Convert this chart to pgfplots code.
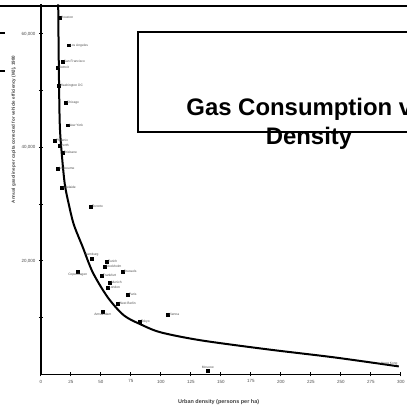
\documentclass[border=0pt]{standalone}
\usepackage{pgfplots}
\pgfplotsset{compat=1.18}
\usepackage{fontspec}
\setmainfont{Liberation Sans}
\begin{document}
\begin{tikzpicture}[x=1bp,y=1bp]
\begin{scope}
\clip (0,0) rectangle (407,405);
\begin{axis}[
  at={(34,54)}, anchor=south west,
  scale only axis, width=360bp, height=370bp,
  xmin=0, xmax=300, ymin=0, ymax=65200,
  axis x line=bottom, axis y line=left,
  axis line style={-, line width=1.6bp, black},
  xtick={0,25,...,300},
  ytick={20000,40000,60000}, minor ytick={10000,30000,50000},
  tick align=center, major tick length=4bp, minor tick length=4bp,
  every tick/.style={black, line width=1bp},
  scaled y ticks=false,
  /pgf/number format/assume math mode=true,
  /pgf/number format/1000 sep={,},
  ticklabel style={font=\fontsize{4.5}{5}\selectfont, text=black!70},
  xlabel={Urban density (persons per ha)},
  ylabel={Annual gasoline per capita corrected for vehicle efficiency (MJ), 1980},
  xlabel style={at={(rel axis cs:0.494,-0.076)}, anchor=center, font=\bfseries\fontsize{5.5}{6}\selectfont, text=black!75},
  ylabel style={at={(rel axis cs:-0.075,0.662)}, anchor=center, font=\bfseries\fontsize{4.5}{5}\selectfont, text=black!75},
  clip=false,
]
% fitted curve
\addplot[black, line width=2bp, smooth, tension=0.5] coordinates {
(14.5,65200) (15.0,54600) (15.8,44100) (17.5,38800) (20.0,33500) (23.3,30000)
(27.5,26400) (35.0,22400) (43.3,17970) (55.8,13570) (69.2,10400) (83.3,8800)
(100,7400) (133.3,6000) (189.2,4400) (244.2,3000) (298.3,1400)
};
% cities labelled to the right
\addplot[only marks, mark=square*, mark size=1.4bp, black,
  nodes near coords, point meta=explicit symbolic,
  nodes near coords style={anchor=west, font=\fontsize{3.3}{4}\selectfont, text=black!70, inner sep=1bp}]
  table[meta=label, col sep=comma, row sep=\\] {
x,y,label\\
15.8,62900,Houston\\
23.3,58000,Los Angeles\\
18.3,55150,San Francisco\\
14.2,54100,Detroit\\
15.0,50900,Washington DC\\
20.8,47900,Chicago\\
22.5,43900,New York\\
11.7,41200,Phoenix\\
15.8,40300,Perth\\
18.3,39100,Brisbane\\
14.2,36300,Melbourne\\
17.5,32950,Adelaide\\
41.7,29600,Toronto\\
55.0,19900,Zurich\\
53.3,19030,Stockholm\\
68.3,18150,Brussels\\
50.8,17440,Frankfurt\\
57.5,16210,Munich\\
55.8,15330,London\\
72.5,14100,Paris\\
64.2,12510,West Berlin\\
105.8,10570,Vienna\\
82.5,9340,Tokyo\\
};
% cities labelled below
\addplot[only marks, mark=square*, mark size=1.4bp, black,
  nodes near coords, point meta=explicit symbolic,
  nodes near coords style={anchor=north, font=\fontsize{3.3}{4}\selectfont, text=black!70, inner sep=1bp, yshift=-1bp}]
  table[meta=label, col sep=comma, row sep=\\] {
x,y,label\\
30.8,18150,Copenhagen\\
51.7,11100,Amsterdam\\
};
% cities labelled above
\addplot[only marks, mark=square*, mark size=1.4bp, black,
  nodes near coords, point meta=explicit symbolic,
  nodes near coords style={anchor=south, font=\fontsize{3.3}{4}\selectfont, text=black!70, inner sep=1bp, yshift=1bp}]
  table[meta=label, col sep=comma, row sep=\\] {
x,y,label\\
42.5,20440,Hamburg\\
139.2,600,Moscow\\
};
% Hong Kong at the end of the curve
\addplot[only marks, mark=none,
  nodes near coords, point meta=explicit symbolic,
  nodes near coords style={anchor=south east, font=\fontsize{3.3}{4}\selectfont, text=black!70, inner sep=1bp}]
  table[meta=label, col sep=comma, row sep=\\] {
x,y,label\\
298.3,1400,Hong Kong\\
};
\end{axis}
% slide decorations
\draw[line width=2.4bp] (0,399) -- (407,399);
\draw[line width=1.2bp] (0,372) -- (5,372);
\draw[line width=1.2bp] (0,334) -- (5,334);
\draw[line width=1.2bp, fill=white] (138,273) rectangle (430,373);
\node[anchor=base, inner sep=0pt, font=\bfseries\fontsize{24}{29}\selectfont] at (306,290) {Gas Consumption vs};
\node[anchor=base, inner sep=0pt, font=\bfseries\fontsize{24}{29}\selectfont] at (309,261) {Density};
\end{scope}
\pgfresetboundingbox
\path[use as bounding box] (0,0) rectangle (407,405);
\end{tikzpicture}
\end{document}
